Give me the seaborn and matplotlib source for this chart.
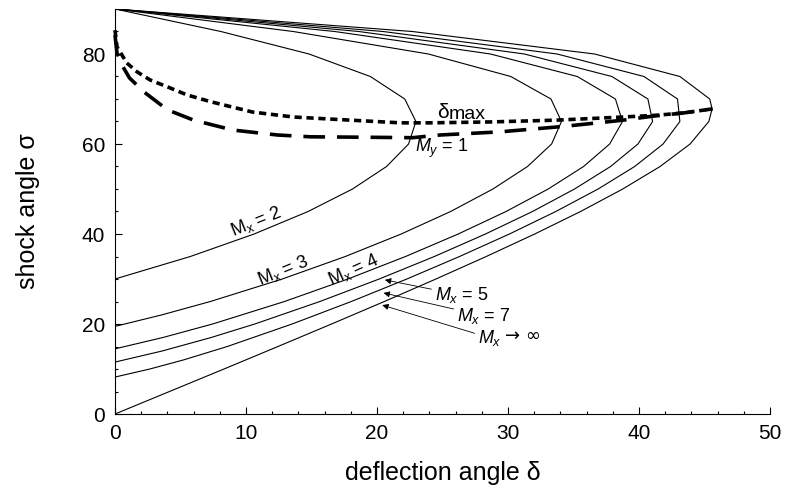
import matplotlib
matplotlib.use('Agg')
import matplotlib.pyplot as plt
from matplotlib.ticker import MultipleLocator
import numpy as np
import pandas as pd
import seaborn as sns

# shock angle sigma vs deflection angle delta
sig_m2 = [30, 35, 40, 45, 50, 55, 60, 65, 70, 75, 80, 85, 90]
del_m2 = [0, 5.75, 10.62, 14.74, 18.13, 20.73, 22.41, 22.97, 22.12, 19.49, 14.81, 8.08, 0]

sig_m3 = [19.47, 22, 25, 30, 35, 40, 45, 50, 55, 60, 65, 70, 75, 80, 85, 90]
del_m3 = [0, 3.54, 7.28, 12.77, 17.58, 21.85, 25.62, 28.85, 31.49, 33.33, 34.08, 33.28, 30.21, 23.92, 13.6, 0]

sig_m4 = [14.48, 17, 20, 25, 30, 35, 40, 45, 50, 55, 60, 65, 70, 75, 80, 85, 90]
del_m4 = [0, 3.66, 7.45, 12.94, 17.78, 22.18, 26.2, 29.85, 33.07, 35.77, 37.76, 38.74, 38.2, 35.29, 28.66, 16.77, 0]

sig_m5 = [11.54, 14, 17, 20, 25, 30, 35, 40, 45, 50, 55, 60, 65, 70, 75, 80, 85, 90]
del_m5 = [0, 3.6, 7.34, 10.67, 15.64, 20.17, 24.38, 28.28, 31.87, 35.08, 37.83, 39.92, 41.04, 40.68, 37.93, 31.25, 18.6, 0]

sig_m7 = [8.21, 10, 12, 15, 20, 25, 30, 35, 40, 45, 50, 55, 60, 65, 70, 75, 80, 85, 90]
del_m7 = [0, 2.66, 5.21, 8.57, 13.52, 18.04, 22.28, 26.3, 30.11, 33.65, 36.88, 39.67, 41.84, 43.12, 42.94, 40.38, 33.75, 20.46, 0]

sig_inf = [0, 5, 10, 15, 20, 25, 30, 35, 40, 45, 50, 55, 60, 65, 67.79, 70, 75, 80, 85, 90]
del_inf = [0, 4.16, 8.32, 12.44, 16.53, 20.56, 24.5, 28.34, 32.04, 35.54, 38.76, 41.61, 43.9, 45.33, 45.58, 45.4, 43.12, 36.61, 22.69, 0]

# locus of maximum deflection (short dashes)
dmax_del = [0, 0.15, 0.9, 1.7, 2.7, 4.0, 5.5, 7.3, 10.5, 13.6, 16.7, 21.8, 24.0, 28.6, 33.7, 38.8, 41.4, 43.4, 45.6]
dmax_sig = [85.3, 81.6, 78.0, 76.0, 74.2, 72.7, 70.9, 69.4, 67.1, 66.0, 65.5, 64.7, 64.7, 64.9, 65.3, 66.0, 66.4, 66.9, 67.8]

# sonic line My = 1 (long dashes)
son_del = [0, 0.15, 0.6, 1.1, 2.2, 4.0, 6.0, 9.0, 12.4, 14.9, 19.2, 22.7, 24.8, 29.4, 34.2, 38.8, 41.1, 43.4, 45.6]
son_sig = [84.2, 80.2, 77.2, 74.7, 71.6, 67.6, 65.3, 63.1, 62.0, 61.6, 61.5, 61.4, 62.0, 62.7, 63.9, 65.3, 66.2, 66.9, 67.8]

curves = [('2', sig_m2, del_m2), ('3', sig_m3, del_m3), ('4', sig_m4, del_m4),
          ('5', sig_m5, del_m5), ('7', sig_m7, del_m7), ('inf', sig_inf, del_inf)]
rows = []
for name, s, d in curves:
    for a, b in zip(d, s):
        rows.append((name, a, b))
df = pd.DataFrame(rows, columns=['mach', 'delta', 'sigma'])

sns.set_style('ticks')
plt.rcParams['font.family'] = ['Liberation Sans', 'DejaVu Sans']
plt.rcParams['mathtext.fontset'] = 'custom'
plt.rcParams['mathtext.rm'] = 'Liberation Sans'
plt.rcParams['mathtext.it'] = 'Liberation Sans:italic'
plt.rcParams['mathtext.sf'] = 'Liberation Sans'
for k in ['text.color', 'axes.labelcolor', 'xtick.color', 'ytick.color', 'axes.edgecolor']:
    plt.rcParams[k] = 'black'

fig = plt.figure(figsize=(7.92, 4.98), dpi=100)
ax = fig.add_axes([115/792, 84/498, 655/792, 405/498])

sns.lineplot(data=df, x='delta', y='sigma', units='mach', estimator=None, sort=False,
             color='black', lw=0.8, ax=ax, legend=False)
sns.lineplot(x=dmax_del, y=dmax_sig, sort=False, estimator=None, color='black', lw=2.6,
             linestyle=(0, (2, 1.3)), ax=ax, clip_on=False)
sns.lineplot(x=son_del, y=son_sig, sort=False, estimator=None, color='black', lw=2.6,
             linestyle=(0, (6, 3.3)), ax=ax, clip_on=False)

ax.set_xlim(0, 50)
ax.set_ylim(0, 90)
ax.xaxis.set_major_locator(MultipleLocator(10))
ax.xaxis.set_minor_locator(MultipleLocator(2))
ax.yaxis.set_major_locator(MultipleLocator(20))
ax.yaxis.set_minor_locator(MultipleLocator(5))
ax.set_yticks([0, 20, 40, 60, 80])
ax.tick_params(which='both', direction='in', top=False, right=False, width=0.8, colors='black')
ax.tick_params(which='major', length=5, labelsize=15)
ax.tick_params(which='minor', length=2.5)
ax.tick_params(axis='x', pad=7)
ax.tick_params(axis='y', pad=7)
for side in ['top', 'right']:
    ax.spines[side].set_visible(False)
for side in ['left', 'bottom']:
    ax.spines[side].set_linewidth(0.8)
    ax.spines[side].set_color('black')

ax.set_xlabel('deflection angle δ', fontsize=18, va='center')
ax.xaxis.set_label_coords(0.5, -0.146)
ax.set_ylabel('shock angle σ', fontsize=18, va='center')
ax.yaxis.set_label_coords(-0.133, 0.5)

# curve labels
ax.text(10.76, 42.7, r'M$_{\mathrm{x}}$ = 2', rotation=22, ha='center', va='center', fontsize=13, rotation_mode='anchor')
ax.text(12.8, 31.9, r'M$_{\mathrm{x}}$ = 3', rotation=22, ha='center', va='center', fontsize=13, rotation_mode='anchor')
ax.text(18.2, 32.0, r'M$_{\mathrm{x}}$ = 4', rotation=24, ha='center', va='center', fontsize=13, rotation_mode='anchor')
ax.text(24.6, 65.8, 'δ', fontsize=15, ha='left', va='baseline')
ax.text(25.45, 65.6, 'max', fontsize=14, ha='left', va='baseline')
ax.text(22.9, 58.2, r'$M_y$ = 1', fontsize=13, ha='left', va='baseline')

arrow = dict(arrowstyle='-|>', lw=0.6, color='black', mutation_scale=9, shrinkA=0, shrinkB=0)
ax.annotate(r'$M_x$ = 5', xy=(20.6, 29.8), xytext=(24.4, 25.3), fontsize=13, va='baseline', arrowprops=arrow)
ax.annotate(r'$M_x$ = 7', xy=(20.5, 26.9), xytext=(26.1, 20.7), fontsize=13, va='baseline', arrowprops=arrow)
ax.annotate(r'$M_x$', xy=(20.4, 24.2), xytext=(27.7, 15.8), fontsize=13, va='baseline', arrowprops=arrow)
ax.text(29.75, 16.3, '→ ∞', family='DejaVu Sans', fontsize=13, ha='left', va='baseline')

fig.savefig('out.png', dpi=100)
